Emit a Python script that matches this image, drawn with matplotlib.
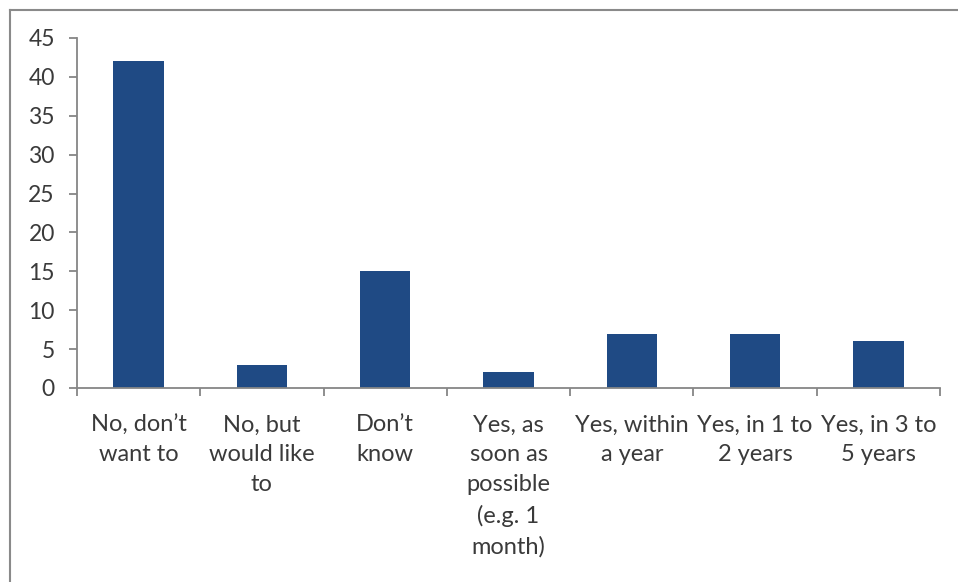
import matplotlib
matplotlib.use("Agg")
import matplotlib.pyplot as plt
from matplotlib.lines import Line2D
import numpy as np

categories = ["No, don\u2019t\nwant to", "No, but\nwould like\nto", "Don\u2019t\nknow",
              "Yes, as\nsoon as\npossible\n(e.g. 1\nmonth)", "Yes, within\na year",
              "Yes, in 1 to\n2 years", "Yes, in 3 to\n5 years"]
values = [42, 3, 15, 2, 7, 7, 6]
yticks = [0, 5, 10, 15, 20, 25, 30, 35, 40, 45]

plt.rcParams['font.family'] = ['Lato', 'DejaVu Sans']
text_color = '#3a3a3a'
axis_color = '#868686'
bar_color = '#1f4a84'

fig = plt.figure(figsize=(9.58, 5.82), dpi=100)
ax = fig.add_axes([77/958, 1 - 388/582, (940 - 77)/958, (388 - 38)/582])

x = np.arange(len(categories))
ax.bar(x, values, width=0.41, color=bar_color, zorder=2)

ax.set_xlim(-0.5, len(categories) - 0.5)
ax.set_ylim(0, 45)
ax.set_yticks(yticks)
ax.set_yticklabels([str(v) for v in yticks])
ax.set_xticks(x)
ax.set_xticklabels(categories, linespacing=1.52)
ax.set_xticks(np.arange(len(categories) + 1) - 0.5, minor=True)

for s in ['top', 'right']:
    ax.spines[s].set_visible(False)
for s in ['left', 'bottom']:
    ax.spines[s].set_color(axis_color)
    ax.spines[s].set_linewidth(1.3)

ax.tick_params(axis='x', which='major', length=0, pad=19, labelsize=17, labelcolor=text_color)
ax.tick_params(axis='x', which='minor', length=6, width=1.3, color=axis_color, direction='out')
ax.tick_params(axis='y', which='major', length=6, width=1.3, color=axis_color, pad=10,
               labelsize=16.5, labelcolor=text_color, direction='out')
for lbl in ax.get_xticklabels():
    lbl.set_verticalalignment('top')
    lbl.set_horizontalalignment('center')
    lbl.set_multialignment('center')

# figure border (top and left edges visible in reference)
fig.add_artist(Line2D([10/958, 1], [1 - 10/582, 1 - 10/582], transform=fig.transFigure,
                      color='#8a8a8a', linewidth=1.5))
fig.add_artist(Line2D([10/958, 10/958], [0, 1 - 10/582], transform=fig.transFigure,
                      color='#8a8a8a', linewidth=1.5))

fig.savefig("out.png", dpi=100, facecolor='white')
